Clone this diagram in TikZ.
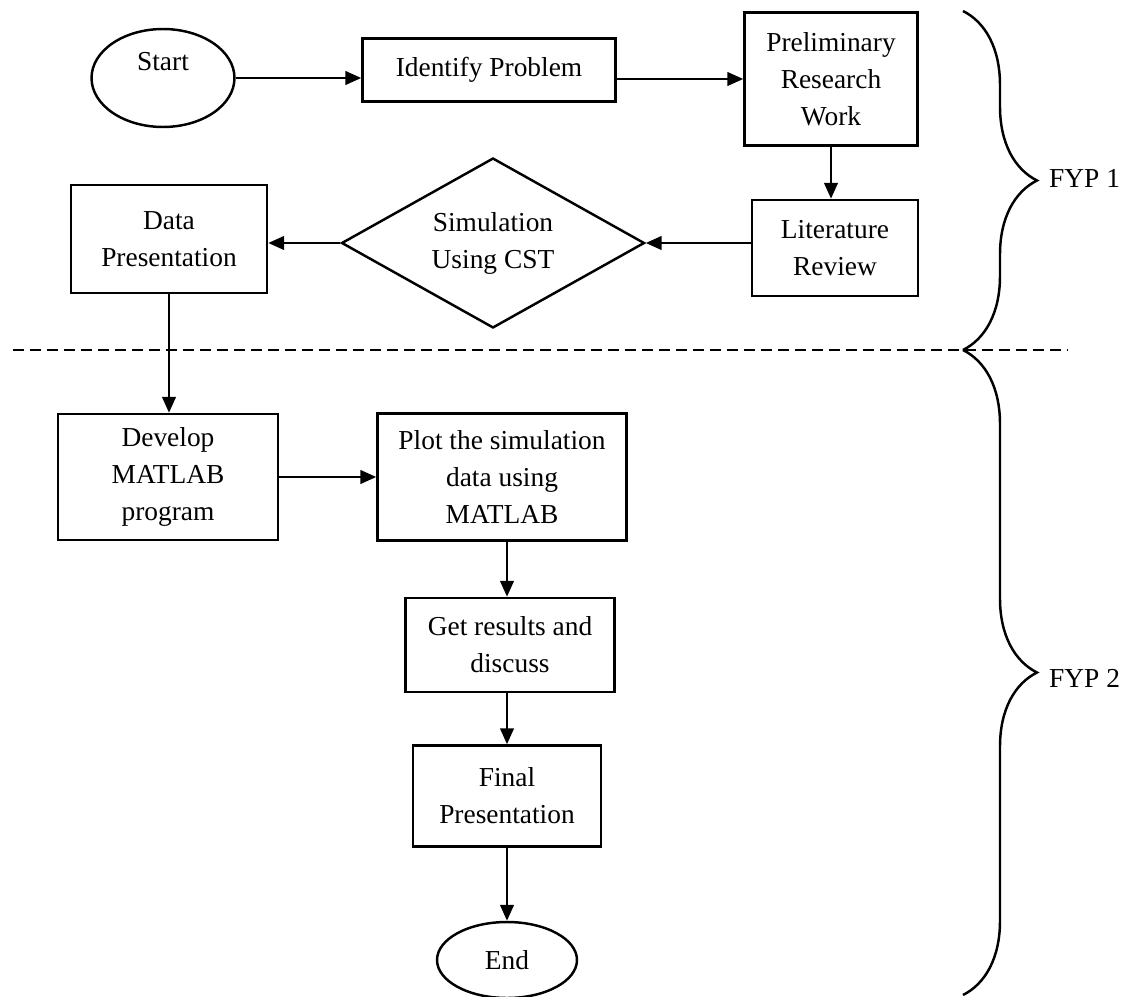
\documentclass[tikz,border=0pt]{standalone}
\usepackage{fontspec}
\setmainfont{Liberation Serif}
\usepackage{tikz}
\usetikzlibrary{shapes.geometric,arrows.meta,decorations.pathreplacing}

\tikzset{
  stepbox/.style={draw, rectangle, line width=1.4pt, align=center, inner sep=2pt},
  terminal/.style={draw, ellipse, line width=1.4pt, inner sep=1pt},
  decision/.style={draw, diamond, aspect=1.8, line width=1.4pt, align=center, inner sep=1pt},
  flow/.style={-{Triangle[length=0.32cm,width=0.27cm]}, line width=1.6pt},
  phase/.style={decorate, decoration={brace, amplitude=1.48cm}, line width=1.4pt},
  split/.style={dash pattern=on 0.22cm off 0.12cm, line width=1.4pt}
}

\begin{document}
\begin{tikzpicture}[x=0.02cm, y=-0.02cm, font=\fontsize{15.6}{21}\selectfont]
        \useasboundingbox (0,0) rectangle (1133,997);
        \begin{scope}
            \node[terminal, minimum width=2.86cm, minimum height=1.96cm,
                  label={[yshift=0.32cm]center:Start}] (start) at (163,78) {};
            \node[stepbox, minimum width=5.06cm, minimum height=1.26cm] (ident) at (489,70) {Identify Problem};
            \node[stepbox, minimum width=3.46cm, minimum height=2.66cm] (prelim) at (831,79) {Preliminary\\Research\\Work};
            \node[stepbox, minimum width=3.32cm, minimum height=1.92cm] (litrev) at (835,248) {Literature\\Review};
            \node[decision, minimum width=6.06cm, minimum height=3.4cm] (sim) at (493,243) {Simulation\\Using CST};
            \node[stepbox, minimum width=3.92cm, minimum height=2.16cm] (datapres) at (169,239) {Data\\Presentation};

            \node[stepbox, minimum width=4.4cm, minimum height=2.52cm] (develop) at (168,477) {Develop\\MATLAB\\program};
            \node[stepbox, minimum width=4.98cm, minimum height=2.54cm] (plot) at (502,477) {Plot the simulation\\data using\\MATLAB};
            \node[stepbox, minimum width=4.18cm, minimum height=1.88cm] (results) at (510,645) {Get results and\\discuss};
            \node[stepbox, minimum width=3.76cm, minimum height=2.02cm] (final) at (507,796) {Final\\Presentation};
            \node[terminal, minimum width=2.8cm, minimum height=1.52cm] (finish) at (507,960) {End};

            \node[anchor=west] (fyp1) at (1043,178) {FYP 1};
            \node[anchor=west] (fyp2) at (1043,678) {FYP 2};
        \end{scope}

        \coordinate (splitl) at (13,350);
        \coordinate (splitr) at (1068,350);
        \coordinate (fyp1top) at (963,11);
        \coordinate (fyp1bot) at (963,350);
        \coordinate (fyp2top) at (963,350);
        \coordinate (fyp2bot) at (963,995);

        \draw[split] (splitl) -- (splitr);
        \draw[phase] (fyp1top) -- (fyp1bot);
        \draw[phase] (fyp2top) -- (fyp2bot);

        \begin{scope}[
            every edge/.style={draw, flow}
        ]
            \path (start.east) edge (start.east -| ident.west);
            \path (ident.east |- prelim.west) edge (prelim.west);
            \path (prelim.south) edge (prelim.south |- litrev.north);
            \path (litrev.west |- sim.east) edge (sim.east);
            \path (sim.west) edge (sim.west -| datapres.east);
            \path (datapres.south) edge (datapres.south |- develop.north);
            \path (develop.east) edge (develop.east -| plot.west);
            \path (plot.south -| final) edge (results.north -| final);
            \path (results.south -| final) edge (final.north);
            \path (final.south) edge (final.south |- finish.north);
        \end{scope}
    \end{tikzpicture}
\end{document}
